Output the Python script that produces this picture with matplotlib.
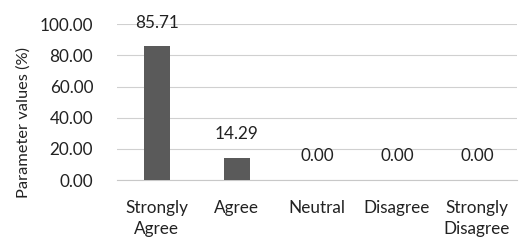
import numpy as np
import matplotlib.pyplot as plt

categorias = ['Strongly\nAgree', 'Agree', 'Neutral', 'Disagree', 'Strongly\nDisagree']
valores = [85.71, 14.29, 0.00, 0.00, 0.00]
ticks_y = [0, 20, 40, 60, 80, 100]

plt.rcParams['font.family'] = ['Lato', 'DejaVu Sans']
fs = 12.3

fig = plt.figure(figsize=(5.19, 2.44), dpi=100)
ax = fig.add_axes([0.225, 0.262, 0.771, 0.639])

x = np.arange(len(categorias))
ax.bar(x, valores, width=0.33, color='#5a5a5a', zorder=3)

# etiquetas de valores sobre las barras
for xi, v in zip(x, valores):
    ax.annotate(f'{v:.2f}', (xi, v), xytext=(0, 17), textcoords='offset points',
                ha='center', va='center', fontsize=fs, color='#222222')

ax.set_xlim(-0.5, len(categorias) - 0.5)
ax.set_ylim(0, 100)
ax.set_yticks(ticks_y)
ax.set_yticklabels([f'{t:.2f}' for t in ticks_y], fontsize=fs, color='#222222')
ax.set_xticks(x)
ax.set_xticklabels(categorias, fontsize=fs, color='#222222', linespacing=1.4)
ax.tick_params(axis='both', length=0)
ax.tick_params(axis='x', pad=14)
ax.tick_params(axis='y', pad=17)
ax.grid(axis='y', color='#d0d0d0', linewidth=0.8, zorder=0)
for s in ['top', 'right', 'left']:
    ax.spines[s].set_visible(False)
ax.spines['bottom'].set_color('#c8c8c8')

ax.set_ylabel('Parameter values (%)', fontsize=11.8, color='#222222')
ax.yaxis.set_label_coords(-0.215, 0.37)

fig.savefig('out.png', dpi=100)
